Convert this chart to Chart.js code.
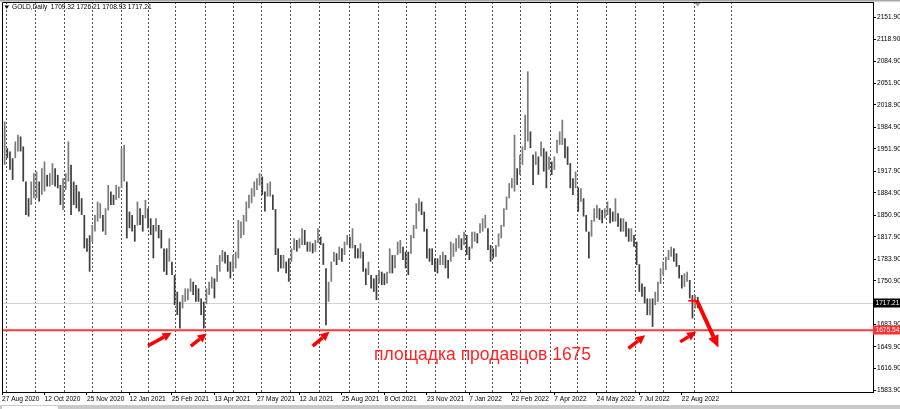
<!DOCTYPE html>
<html>
<head>
<meta charset="utf-8">
<script src="https://cdn.jsdelivr.net/npm/chart.js@4.4.1/dist/chart.umd.min.js"></script>
<style>
  html, body { margin: 0; padding: 0; background: #fff; }
  #wrap { width: 900px; height: 409px; }
</style>
</head>
<body>
<div id="wrap"><canvas id="gold" width="900" height="409"></canvas></div>
<script>
// Date labels under the chart, one every 16 bars (32 trading days)
const dateLabels = ['27 Aug 2020', '12 Oct 2020', '25 Nov 2020', '12 Jan 2021', '25 Feb 2021',
  '13 Apr 2021', '27 May 2021', '12 Jul 2021', '25 Aug 2021', '8 Oct 2021', '23 Nov 2021',
  '7 Jan 2022', '22 Feb 2022', '7 Apr 2022', '24 May 2022', '7 Jul 2022', '22 Aug 2022'];

// Price scale labels on the right
const priceTicks = [2151.9, 2118.9, 2084.9, 2051.9, 2018.9, 1984.9, 1951.9, 1917.9, 1884.9,
  1850.9, 1817.9, 1783.9, 1750.9, 1716.9, 1683.9, 1649.9, 1616.9, 1583.9];

// Trading-day number of the first day of every month (dotted grid)
const monthStartDays = [3, 25, 47, 68, 90, 110, 130, 153, 174, 195, 217, 239, 261, 283, 304,
  326, 349, 369, 390, 413, 433, 455, 477, 498, 521, 549];

// GOLD, two trading days per bar: highs and lows
const highs = [
  1975.8, 1993.6, 1952.9, 1947.8, 1937.6, 1963.1, 1973.3, 1970.7, 1955.5, 1902.0,
  1876.6, 1902.0, 1914.7, 1917.3, 1902.0, 1922.4, 1932.6, 1912.2, 1914.7, 1930.0,
  1922.4, 1912.2, 1896.9, 1907.1, 1914.7, 1963.1, 1927.5, 1902.0, 1896.9, 1886.8,
  1876.6, 1851.0, 1815.5, 1820.0, 1835.9, 1851.1, 1871.5, 1869.0, 1851.1, 1861.3,
  1896.9, 1886.8, 1881.7, 1896.9, 1894.4, 1952.9, 1958.0, 1902.0, 1856.2, 1851.1,
  1835.9, 1871.5, 1861.3, 1851.1, 1874.0, 1861.3, 1846.0, 1835.9, 1846.0, 1835.9,
  1828.2, 1800.0, 1800.2, 1815.5, 1779.9, 1759.5, 1734.1, 1718.8, 1729.0, 1739.2,
  1739.2, 1754.4, 1749.3, 1744.3, 1739.2, 1723.9, 1718.8, 1739.2, 1749.3, 1757.0,
  1754.4, 1774.8, 1790.1, 1797.7, 1795.2, 1790.1, 1779.9, 1790.1, 1795.2, 1843.5,
  1841.0, 1851.1, 1871.5, 1881.7, 1891.8, 1902.0, 1907.1, 1914.7, 1909.7, 1886.8,
  1899.5, 1902.0, 1882.0, 1860.0, 1800.2, 1790.1, 1790.1, 1779.9, 1785.0, 1800.2,
  1815.5, 1813.0, 1815.5, 1830.8, 1828.2, 1810.4, 1810.4, 1807.9, 1813.0, 1830.8,
  1818.0, 1807.9, 1769.7, 1749.3, 1779.9, 1795.2, 1792.6, 1802.8, 1800.2, 1810.4,
  1820.6, 1818.0, 1830.8, 1805.3, 1800.2, 1807.9, 1795.1, 1769.7, 1779.9, 1759.5,
  1754.4, 1759.5, 1767.1, 1764.6, 1762.1, 1764.6, 1800.2, 1790.0, 1790.0, 1810.4,
  1812.9, 1802.8, 1795.1, 1795.1, 1820.6, 1835.8, 1868.9, 1876.5, 1871.4, 1856.2,
  1830.0, 1800.2, 1800.2, 1784.9, 1784.9, 1790.0, 1795.1, 1790.0, 1782.4, 1810.4,
  1807.9, 1815.5, 1820.6, 1815.5, 1825.6, 1820.6, 1802.8, 1825.6, 1825.6, 1823.1,
  1838.4, 1846.0, 1851.1, 1830.7, 1805.3, 1800.2, 1805.3, 1823.1, 1835.8, 1861.3,
  1879.1, 1899.5, 1907.1, 1973.2, 1922.3, 1942.7, 1955.4, 2003.8, 2069.9, 1978.3,
  1942.7, 1947.8, 1940.2, 1963.0, 1952.9, 1947.8, 1940.2, 1932.5, 1940.2, 1965.6,
  1978.3, 1996.1, 1968.1, 1955.4, 1930.0, 1907.1, 1917.2, 1893.0, 1891.8, 1876.5,
  1851.1, 1825.6, 1843.5, 1861.3, 1866.4, 1861.3, 1858.8, 1861.3, 1871.4, 1861.3,
  1856.2, 1876.5, 1853.7, 1846.0, 1846.0, 1840.9, 1830.7, 1830.7, 1820.6, 1810.4,
  1776.0, 1746.8, 1741.7, 1723.9, 1723.9, 1723.9, 1734.0, 1749.3, 1769.7, 1779.9,
  1787.5, 1797.7, 1802.8, 1800.2, 1792.6, 1774.8, 1759.5, 1762.1, 1764.6, 1752.0,
  1729.0, 1729.0, 1726.2];
const lows = [
  1909.7, 1927.5, 1937.6, 1919.8, 1904.6, 1937.6, 1947.8, 1947.8, 1902.0, 1851.1,
  1848.6, 1866.4, 1876.6, 1876.6, 1871.5, 1881.7, 1886.8, 1894.4, 1894.4, 1896.9,
  1894.4, 1891.8, 1866.4, 1858.8, 1889.3, 1902.0, 1851.1, 1866.4, 1861.3, 1856.2,
  1851.1, 1800.2, 1795.2, 1764.6, 1810.0, 1825.7, 1841.0, 1846.0, 1825.7, 1820.6,
  1858.0, 1866.4, 1866.4, 1874.0, 1876.6, 1891.8, 1902.0, 1815.5, 1830.8, 1825.7,
  1810.4, 1835.0, 1835.9, 1825.7, 1846.0, 1830.8, 1820.6, 1785.0, 1825.7, 1815.5,
  1800.2, 1764.6, 1759.5, 1779.9, 1759.5, 1713.7, 1698.5, 1678.1, 1708.6, 1718.8,
  1721.3, 1734.1, 1729.0, 1718.8, 1718.8, 1698.5, 1678.1, 1715.0, 1729.0, 1739.2,
  1724.0, 1749.3, 1764.6, 1779.9, 1777.3, 1764.6, 1754.4, 1764.6, 1769.7, 1785.0,
  1815.5, 1820.6, 1841.0, 1861.3, 1868.9, 1879.1, 1889.3, 1895.9, 1881.7, 1856.2,
  1879.1, 1879.1, 1858.8, 1790.1, 1764.6, 1769.7, 1769.7, 1762.1, 1749.3, 1779.9,
  1797.7, 1795.2, 1800.2, 1805.3, 1805.3, 1795.2, 1795.2, 1792.6, 1795.2, 1807.9,
  1805.3, 1775.0, 1683.2, 1718.8, 1749.3, 1779.9, 1774.8, 1782.4, 1779.9, 1790.1,
  1805.3, 1800.2, 1800.2, 1785.0, 1785.0, 1784.9, 1764.6, 1744.2, 1759.5, 1739.1,
  1734.0, 1721.3, 1746.8, 1744.2, 1744.2, 1746.8, 1762.0, 1762.1, 1769.7, 1790.0,
  1792.6, 1782.4, 1769.7, 1759.5, 1792.0, 1815.5, 1830.0, 1856.2, 1851.1, 1825.6,
  1784.9, 1779.9, 1774.8, 1764.6, 1762.1, 1774.8, 1774.8, 1769.7, 1754.4, 1780.0,
  1787.5, 1795.1, 1800.2, 1797.7, 1805.3, 1790.0, 1782.4, 1800.0, 1810.4, 1807.9,
  1823.1, 1825.6, 1830.7, 1797.7, 1779.9, 1784.9, 1787.5, 1802.8, 1815.5, 1833.0,
  1858.8, 1876.5, 1891.8, 1886.7, 1896.9, 1912.2, 1927.4, 1950.0, 1963.0, 1952.9,
  1896.9, 1927.4, 1912.2, 1940.2, 1917.2, 1891.8, 1919.8, 1912.2, 1919.8, 1945.3,
  1957.9, 1957.9, 1937.6, 1927.4, 1891.8, 1881.6, 1891.8, 1856.2, 1871.4, 1848.6,
  1825.6, 1784.9, 1818.0, 1840.9, 1846.0, 1843.5, 1838.4, 1846.0, 1851.1, 1838.4,
  1840.9, 1840.9, 1833.3, 1825.6, 1825.6, 1818.0, 1810.4, 1810.4, 1802.8, 1774.8,
  1734.0, 1726.4, 1716.3, 1698.4, 1698.4, 1680.6, 1713.7, 1718.8, 1746.0, 1759.5,
  1767.1, 1782.4, 1787.5, 1779.9, 1772.2, 1754.4, 1739.1, 1741.7, 1749.3, 1723.9,
  1693.3, 1708.6, 1708.9];

const lastBar = { open: 1709.32, high: 1726.21, low: 1708.93, close: 1717.21 };
const sellerLevel = 1675.54;
const sellerText = 'площадка продавцов 1675';

// Hand-drawn arrows, in [bar, price] pairs: tail then head
const arrows = [
  [55.0, 1651.9, 63.9, 1671.4],
  [71.1, 1651.1, 77.1, 1670.5],
  [117.0, 1651.1, 123.3, 1673.0],
  [235.9, 1647.6, 242.2, 1667.9],
  [255.4, 1657.7, 261.4, 1673.0]
];
const bigArrow = [261.7, 1720.3, 269.8, 1649.2];

const totalSlots = 329;
const barsPerLabel = 16;
const small = { family: '"Liberation Sans", Arial, sans-serif', size: 6.6 };

const slots = Array.from({ length: totalSlots }, (_, i) => i);
const ranges = lows.map((lo, i) => [lo, highs[i]]);
const barColors = ranges.map((r, i) => {
  if (i === 0) return '#3f3f3f';
  const mid = (r[0] + r[1]) / 2;
  const prev = (ranges[i - 1][0] + ranges[i - 1][1]) / 2;
  return mid >= prev ? '#7c7c7c' : '#3f3f3f';
});

function drawArrow(ctx, x1, y1, x2, y2, shaft, headLen, headW) {
  const ang = Math.atan2(y2 - y1, x2 - x1);
  const bx = x2 - headLen * Math.cos(ang);
  const by = y2 - headLen * Math.sin(ang);
  ctx.beginPath();
  ctx.lineWidth = shaft;
  ctx.lineCap = 'butt';
  ctx.moveTo(x1, y1);
  ctx.lineTo(bx, by);
  ctx.stroke();
  ctx.beginPath();
  ctx.moveTo(x2, y2);
  ctx.lineTo(bx + headW / 2 * Math.sin(ang), by - headW / 2 * Math.cos(ang));
  ctx.lineTo(bx - headW / 2 * Math.sin(ang), by + headW / 2 * Math.cos(ang));
  ctx.closePath();
  ctx.fill();
}

const overlay = {
  id: 'overlay',
  beforeDatasetsDraw(chart) {
    const { ctx, chartArea: a, scales: { x, y } } = chart;
    ctx.save();
    // monthly dotted grid
    ctx.strokeStyle = '#505050';
    ctx.lineWidth = 1;
    ctx.setLineDash([2, 2]);
    monthStartDays.forEach(d => {
      const px = Math.round(x.getPixelForValue(d / 2)) + 0.5;
      ctx.beginPath();
      ctx.moveTo(px, a.top);
      ctx.lineTo(px, a.bottom);
      ctx.stroke();
    });
    ctx.setLineDash([]);
    // bid line
    const by = Math.round(y.getPixelForValue(lastBar.close)) + 0.5;
    ctx.strokeStyle = '#d2d2d2';
    ctx.beginPath();
    ctx.moveTo(a.left, by);
    ctx.lineTo(a.right, by);
    ctx.stroke();
    ctx.restore();
  },
  afterDatasetsDraw(chart) {
    const { ctx, chartArea: a, scales: { x, y } } = chart;
    ctx.save();
    // seller level
    const ly = y.getPixelForValue(sellerLevel);
    ctx.strokeStyle = '#ff3a3a';
    ctx.lineWidth = 2;
    ctx.beginPath();
    ctx.moveTo(a.left, ly);
    ctx.lineTo(a.right, ly);
    ctx.stroke();
    // arrows
    ctx.strokeStyle = '#ff0000';
    ctx.fillStyle = '#ff0000';
    arrows.forEach(r => {
      drawArrow(ctx, x.getPixelForValue(r[0]), y.getPixelForValue(r[1]),
        x.getPixelForValue(r[2]), y.getPixelForValue(r[3]), 3.5, 9, 9);
    });
    // marker on the last bar and the big arrow down
    const mx1 = x.getPixelForValue(258.4), mx2 = x.getPixelForValue(bigArrow[0]);
    const my = y.getPixelForValue(bigArrow[1]);
    ctx.lineWidth = 1.5;
    ctx.beginPath();
    ctx.moveTo(mx1, my);
    ctx.lineTo(mx2, my);
    ctx.moveTo(x.getPixelForValue(260), my - 3);
    ctx.lineTo(x.getPixelForValue(260), my + 3);
    ctx.stroke();
    drawArrow(ctx, mx2, my, x.getPixelForValue(bigArrow[2]), y.getPixelForValue(bigArrow[3]), 4, 12, 11);
    // caption
    ctx.fillStyle = '#ff2424';
    ctx.font = '17.5px "Liberation Sans", Arial, sans-serif';
    ctx.textAlign = 'left';
    ctx.textBaseline = 'alphabetic';
    ctx.fillText(sellerText, x.getPixelForValue(140.1), y.getPixelForValue(1629.8));
    ctx.restore();
  },
  afterDraw(chart) {
    const { ctx, chartArea: a, scales: { x, y } } = chart;
    ctx.save();
    // frame: top and left edges
    ctx.strokeStyle = '#000';
    ctx.lineWidth = 1;
    ctx.beginPath();
    ctx.moveTo(a.left + 0.5, a.bottom);
    ctx.lineTo(a.left + 0.5, a.top + 0.5);
    ctx.lineTo(a.right, a.top + 0.5);
    ctx.stroke();
    ctx.fillStyle = '#a8a8a8';
    ctx.fillRect(0, 0, 900, 1.5);
    // bottom scroll strip
    ctx.fillStyle = '#c9c9c9';
    ctx.fillRect(0, 405, 900, 4);
    ctx.fillStyle = '#fff';
    ctx.fillRect(2, 406, 56, 3);
    // price boxes on the scale
    const boxes = [[lastBar.close, '#000000'], [sellerLevel, '#ff3030']];
    ctx.font = '6.6px "Liberation Sans", Arial, sans-serif';
    ctx.textBaseline = 'middle';
    ctx.textAlign = 'left';
    boxes.forEach(([v, c]) => {
      const py = Math.round(y.getPixelForValue(v));
      ctx.fillStyle = c;
      ctx.fillRect(a.right, py - 4.5, 900 - a.right, 9);
      ctx.fillStyle = '#fff';
      ctx.fillText(v.toFixed(2), a.right + 2.5, py);
    });
    // shift marker
    const sx = x.getPixelForValue(lows.length - 1);
    ctx.fillStyle = '#a0a0a0';
    ctx.beginPath();
    ctx.moveTo(sx - 3, a.top + 1);
    ctx.lineTo(sx + 3, a.top + 1);
    ctx.lineTo(sx, a.top + 4.5);
    ctx.closePath();
    ctx.fill();
    // header
    ctx.fillStyle = '#000';
    ctx.beginPath();
    ctx.moveTo(4.5, 5.5);
    ctx.lineTo(9, 5.5);
    ctx.lineTo(6.75, 9);
    ctx.closePath();
    ctx.fill();
    ctx.font = '6.6px "Liberation Sans", Arial, sans-serif';
    ctx.textBaseline = 'middle';
    ctx.fillText('GOLD,Daily  ' + [lastBar.open, lastBar.high, lastBar.low, lastBar.close]
      .map(v => v.toFixed(2)).join(' '), 12, 7.5);
    ctx.restore();
  }
};

new Chart(document.getElementById('gold'), {
  type: 'bar',
  data: {
    labels: slots,
    datasets: [{
      data: ranges,
      backgroundColor: barColors,
      borderWidth: 0,
      barPercentage: 0.65,
      categoryPercentage: 1.0
    }]
  },
  options: {
    responsive: false,
    animation: false,
    devicePixelRatio: 1,
    layout: { padding: { left: 2, top: 2, right: 0, bottom: 0 } },
    plugins: { legend: { display: false }, tooltip: { enabled: false } },
    scales: {
      x: {
        type: 'category',
        offset: false,
        grid: { display: true, drawOnChartArea: false, drawTicks: true, tickLength: 3, color: '#000', offset: false },
        border: { display: true, color: '#000' },
        ticks: {
          autoSkip: false,
          maxRotation: 0,
          minRotation: 0,
          align: 'start',
          padding: 0,
          color: '#000',
          font: small,
          callback: (val, idx) => (idx % barsPerLabel === 0 && dateLabels[idx / barsPerLabel]) ? dateLabels[idx / barsPerLabel] : null
        },
        afterFit: s => { s.height = 17; s.paddingLeft = 0; s.paddingRight = 0; }
      },
      y: {
        position: 'right',
        min: 1581.3,
        max: 2175.6,
        grid: { display: true, drawOnChartArea: false, drawTicks: true, tickLength: 3, color: '#000' },
        border: { display: true, color: '#000' },
        afterBuildTicks: s => { s.ticks = priceTicks.map(v => ({ value: v })); },
        ticks: { padding: 1, color: '#000', font: small, callback: v => v.toFixed(2) },
        afterFit: s => { s.width = 27; s.paddingTop = 0; s.paddingBottom = 0; }
      }
    }
  },
  plugins: [overlay]
});
</script>
</body>
</html>
